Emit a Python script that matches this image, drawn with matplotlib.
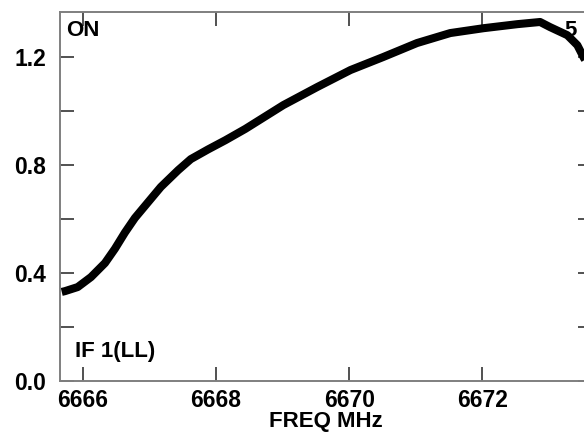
import matplotlib
matplotlib.use("Agg")
import matplotlib.pyplot as plt
from matplotlib.ticker import FixedLocator

plt.rcParams['font.family'] = ['Liberation Sans', 'DejaVu Sans']
plt.rcParams['font.weight'] = 'bold'

freq = [6665.68, 6665.73, 6665.92, 6666.12, 6666.33, 6666.48, 6666.63, 6666.78,
        6666.98, 6667.17, 6667.43, 6667.62, 6667.88, 6668.14, 6668.44,
        6669.01, 6669.52, 6670.02, 6670.51, 6671.02, 6671.52, 6672.02, 6672.53,
        6672.87, 6673.02, 6673.28, 6673.43, 6673.53, 6673.65]
amp = [0.330, 0.333, 0.348, 0.385, 0.437, 0.490, 0.550, 0.604,
       0.663, 0.719, 0.781, 0.822, 0.858, 0.892, 0.934,
       1.022, 1.089, 1.152, 1.200, 1.252, 1.289, 1.307, 1.322,
       1.330, 1.311, 1.281, 1.244, 1.196, 1.150]

xticks = [6666, 6668, 6670, 6672]
yticks = [0.0, 0.4, 0.8, 1.2]
yminor = [0.2, 0.6, 1.0]

W, H = 584, 434
fig = plt.figure(figsize=(W/100, H/100), dpi=100)
ax = fig.add_axes([60/W, 53/H, 532/W, 369/H])
ax.plot(freq, amp, color='black', lw=5.8, solid_capstyle='butt', solid_joinstyle='round')

ax.set_xlim(6665.654, 6673.65)
ax.set_ylim(0, 1.367)

ax.xaxis.set_major_locator(FixedLocator(xticks))
ax.yaxis.set_major_locator(FixedLocator(yticks))
ax.yaxis.set_minor_locator(FixedLocator(yminor))
ax.set_xticklabels([str(t) for t in xticks])
ax.set_yticklabels([f"{t:.1f}" for t in yticks])

for s in ax.spines.values():
    s.set_color('#7f7f7f')
    s.set_linewidth(1.4)

ax.tick_params(axis='both', which='both', direction='in', length=10, width=1.2,
               color='#333333', top=True, right=True, labelsize=16.5)
ax.tick_params(axis='x', pad=6)
ax.tick_params(axis='y', pad=10)

ax.set_xlabel('FREQ MHz', fontsize=16, fontweight='bold', labelpad=-1)

fig.text(66/W, 1 - 30/H, 'ON', fontsize=16, fontweight='bold', va='center', ha='left')
fig.text(75/W, 1 - 352/H, 'IF 1(LL)', fontsize=16, fontweight='bold', va='center', ha='left')
fig.text(564/W, 1 - 30/H, '5', fontsize=16, fontweight='bold', va='center', ha='left')

fig.savefig('out.png', dpi=100)
